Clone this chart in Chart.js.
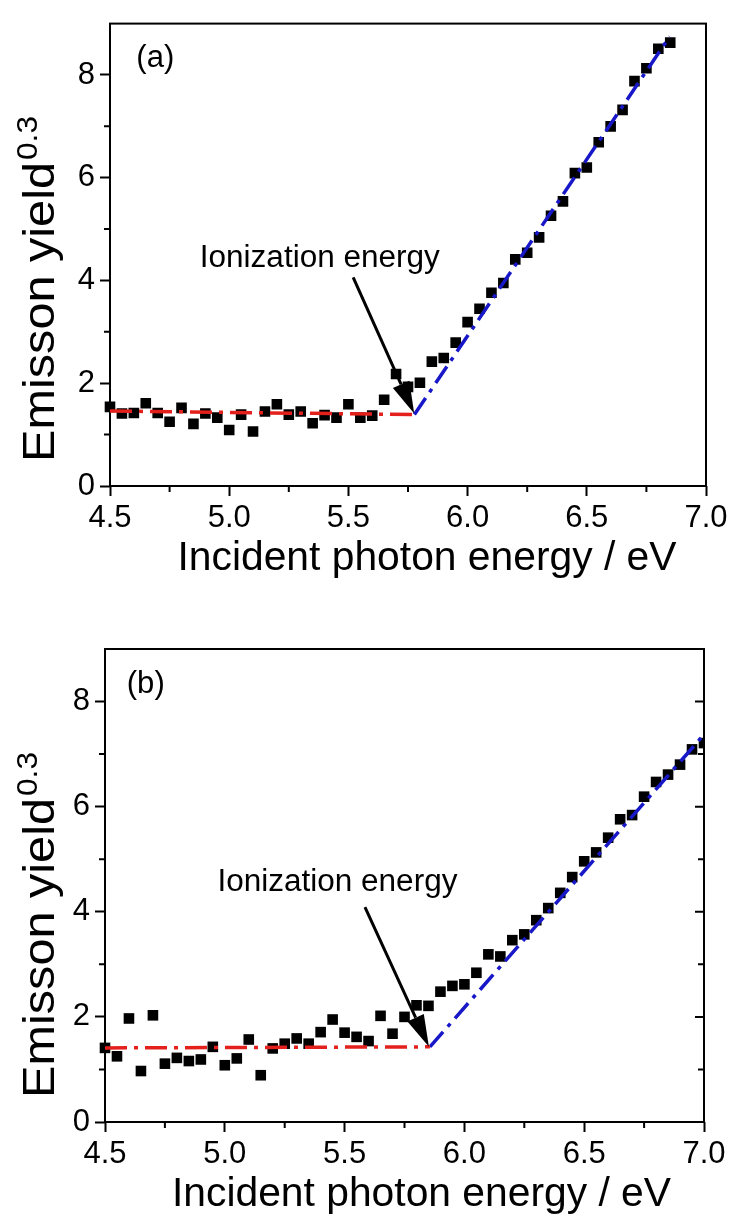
<!DOCTYPE html>
<html>
<head>
<meta charset="utf-8">
<script src="https://cdn.jsdelivr.net/npm/chart.js@4.4.1/dist/chart.umd.min.js"></script>
<style>
  html, body { margin: 0; padding: 0; background: #fff; }
  canvas { display: block; }
</style>
</head>
<body>
<canvas id="chart-a" width="733" height="609"></canvas>
<canvas id="chart-b" width="733" height="609"></canvas>
<script>
var FONT = "'Liberation Sans', Arial, sans-serif";

// axis ticks (shared by both panels)
var xTicks = [4.5, 5.0, 5.5, 6.0, 6.5, 7.0];
var xMinorTicks = [4.75, 5.25, 5.75, 6.25, 6.75];
var yTicks = [0, 2, 4, 6, 8];
var yMinorTicks = [1, 3, 5, 7];

// panel (a) measured yield
var energyA = [4.50, 4.55, 4.60, 4.65, 4.70, 4.75, 4.80, 4.85, 4.90, 4.95,
  5.00, 5.05, 5.10, 5.15, 5.20, 5.25, 5.30, 5.35, 5.40, 5.45,
  5.50, 5.55, 5.60, 5.65, 5.70, 5.75, 5.80, 5.85, 5.90, 5.95,
  6.00, 6.05, 6.10, 6.15, 6.20, 6.25, 6.30, 6.35, 6.40, 6.45,
  6.50, 6.55, 6.60, 6.65, 6.70, 6.75, 6.80, 6.85];
var yieldA = [1.54, 1.41, 1.42, 1.61, 1.42, 1.25, 1.52, 1.21, 1.41, 1.33,
  1.09, 1.39, 1.06, 1.45, 1.59, 1.39, 1.45, 1.22, 1.38, 1.33,
  1.59, 1.33, 1.37, 1.68, 2.18, 1.93, 2.01, 2.42, 2.49, 2.79,
  3.19, 3.45, 3.76, 3.95, 4.41, 4.54, 4.84, 5.26, 5.54, 6.09,
  6.20, 6.69, 7.00, 7.32, 7.88, 8.13, 8.51, 8.63];

// panel (a) fitted lines and arrow
var baseLineA_E = [4.5, 5.777];
var baseLineA_Y = [1.46, 1.39];
var riseLineA_E = [5.777, 6.848];
var riseLineA_Y = [1.39, 8.75];
var arrowA_E = [5.52, 5.776];
var arrowA_Y = [4.06, 1.41];

// panel (b) measured yield
var energyB = [4.50, 4.55, 4.60, 4.65, 4.70, 4.75, 4.80, 4.85, 4.90, 4.95,
  5.00, 5.05, 5.10, 5.15, 5.20, 5.25, 5.30, 5.35, 5.40, 5.45,
  5.50, 5.55, 5.60, 5.65, 5.70, 5.75, 5.80, 5.85, 5.90, 5.95,
  6.00, 6.05, 6.10, 6.15, 6.20, 6.25, 6.30, 6.35, 6.40, 6.45,
  6.50, 6.55, 6.60, 6.65, 6.70, 6.75, 6.80, 6.85, 6.90, 6.95, 7.00];
var yieldB = [1.41, 1.25, 1.97, 0.97, 2.03, 1.11, 1.22, 1.16, 1.19, 1.43,
  1.08, 1.21, 1.57, 0.89, 1.40, 1.49, 1.59, 1.49, 1.71, 1.95,
  1.70, 1.62, 1.54, 2.02, 1.68, 2.00, 2.22, 2.21, 2.48, 2.59,
  2.62, 2.84, 3.19, 3.15, 3.46, 3.57, 3.84, 4.07, 4.36, 4.66,
  4.96, 5.13, 5.41, 5.76, 5.84, 6.19, 6.47, 6.61, 6.80, 7.09, 7.21];

// panel (b) fitted lines and arrow
var baseLineB_E = [4.5, 5.856];
var baseLineB_Y = [1.41, 1.43];
var riseLineB_E = [5.856, 6.99];
var riseLineB_Y = [1.43, 7.32];
var arrowB_E = [5.585, 5.852];
var arrowB_Y = [4.09, 1.43];

var RED = '#e3201c';
var BLUE = '#1818c8';

function toPoints(xs, ys) {
  return xs.map(function (x, i) { return {x: x, y: ys[i]}; });
}

function stretchText(ctx, text, x, y, size, width) {
  ctx.save();
  ctx.font = size + 'px ' + FONT;
  var w = ctx.measureText(text).width;
  ctx.translate(x, y);
  ctx.scale(width / w, 1);
  ctx.textAlign = 'center';
  ctx.textBaseline = 'alphabetic';
  ctx.fillText(text, 0, 0);
  ctx.restore();
}

function drawArrow(ctx, x1, y1, x2, y2) {
  var ang = Math.atan2(y2 - y1, x2 - x1);
  var head = 32, half = 9;
  var bx = x2 - head * Math.cos(ang);
  var by = y2 - head * Math.sin(ang);
  ctx.save();
  ctx.strokeStyle = '#000';
  ctx.fillStyle = '#000';
  ctx.lineWidth = 3;
  ctx.beginPath();
  ctx.moveTo(x1, y1);
  ctx.lineTo(bx, by);
  ctx.stroke();
  ctx.beginPath();
  ctx.moveTo(x2, y2);
  ctx.lineTo(bx + half * Math.sin(ang), by - half * Math.cos(ang));
  ctx.lineTo(bx - half * Math.sin(ang), by + half * Math.cos(ang));
  ctx.closePath();
  ctx.fill();
  ctx.restore();
}

function makePanel(id, p) {
  // box frame and the unlabelled minor ticks
  var framePlugin = {
    id: 'frame',
    beforeDatasetsDraw: function (chart) {
      var ctx = chart.ctx, a = chart.chartArea;
      var xs = chart.scales.x, ys = chart.scales.y;
      ctx.save();
      ctx.strokeStyle = '#000';
      ctx.lineWidth = 2;
      ctx.strokeRect(a.left, a.top, a.right - a.left, a.bottom - a.top);
      ctx.beginPath();
      xMinorTicks.forEach(function (v) {
        var px = xs.getPixelForValue(v);
        ctx.moveTo(px, a.bottom);
        ctx.lineTo(px, a.bottom + 6);
      });
      yMinorTicks.forEach(function (v) {
        var py = ys.getPixelForValue(v);
        ctx.moveTo(a.left - 6, py);
        ctx.lineTo(a.left, py);
      });
      if (p.rightTicks) {
        yTicks.concat(yMinorTicks).forEach(function (v) {
          if (v === 0) return;
          var py = ys.getPixelForValue(v);
          var len = (v % 2 === 0) ? 9 : 6;
          ctx.moveTo(a.right - len, py);
          ctx.lineTo(a.right, py);
        });
      }
      ctx.stroke();
      ctx.restore();
    }
  };

  // panel letter, annotation, arrow and axis titles
  var notesPlugin = {
    id: 'notes',
    afterDatasetsDraw: function (chart) {
      var ctx = chart.ctx, a = chart.chartArea;
      var xs = chart.scales.x, ys = chart.scales.y;
      ctx.save();
      ctx.fillStyle = '#000';

      stretchText(ctx, p.letter, xs.getPixelForValue(p.letterAt[0]), ys.getPixelForValue(p.letterAt[1]), 31, 38);
      stretchText(ctx, 'Ionization energy', xs.getPixelForValue(p.noteAt[0]), ys.getPixelForValue(p.noteAt[1]), 31, 240);

      drawArrow(ctx,
        xs.getPixelForValue(p.arrowE[0]), ys.getPixelForValue(p.arrowY[0]),
        xs.getPixelForValue(p.arrowE[1]), ys.getPixelForValue(p.arrowY[1]));

      stretchText(ctx, 'Incident photon energy / eV', (a.left + a.right) / 2 + p.xTitleShift, a.bottom + 84, 41, 499);

      // rotated y title with superscript exponent
      ctx.save();
      ctx.translate(p.yTitleX, a.bottom - 24);
      ctx.rotate(-Math.PI / 2);
      ctx.textAlign = 'left';
      ctx.textBaseline = 'alphabetic';
      ctx.font = '44px ' + FONT;
      var w = ctx.measureText('Emisson yield').width;
      ctx.save();
      ctx.scale(300 / w, 1);
      ctx.fillText('Emisson yield', 0, 0);
      ctx.restore();
      ctx.font = '30px ' + FONT;
      var w2 = ctx.measureText('0.3').width;
      ctx.translate(302, -17);
      ctx.scale(44 / w2, 1);
      ctx.fillText('0.3', 0, 0);
      ctx.restore();

      ctx.restore();
    }
  };

  var lineStyle = {
    showLine: true,
    pointRadius: 0,
    borderWidth: 3.5,
    fill: false,
    clip: 0
  };

  return new Chart(document.getElementById(id), {
    type: 'scatter',
    data: {
      datasets: [
        Object.assign({data: toPoints(p.baseE, p.baseY), borderColor: RED, borderDash: [22, 7, 4, 7]}, lineStyle),
        Object.assign({data: toPoints(p.riseE, p.riseY), borderColor: BLUE, borderDash: [20, 7, 4, 7]}, lineStyle),
        {
          data: toPoints(p.energy, p.yields),
          pointStyle: 'rect',
          pointRadius: 7.5,
          pointBackgroundColor: '#000',
          pointBorderWidth: 0,
          showLine: false,
          clip: {left: 8, top: 0, right: 0, bottom: 0}
        }
      ]
    },
    options: {
      responsive: false,
      animation: false,
      events: [],
      layout: {
        autoPadding: false,
        padding: {top: p.top, right: p.right, left: 0, bottom: 0}
      },
      plugins: {legend: {display: false}, tooltip: {enabled: false}},
      scales: {
        x: {
          type: 'linear',
          min: 4.5,
          max: 7.0,
          afterBuildTicks: function (scale) {
            scale.ticks = xTicks.map(function (v) { return {value: v}; });
          },
          afterFit: function (scale) { scale.height = p.xAxisHeight; },
          border: {display: false},
          grid: {drawOnChartArea: false, drawTicks: true, tickLength: 10, tickWidth: 2, tickColor: '#000'},
          ticks: {
            color: '#000',
            padding: p.xPad,
            maxRotation: 0,
            font: {family: FONT, size: 31},
            callback: function (v) { return v.toFixed(1); }
          }
        },
        y: {
          type: 'linear',
          min: 0,
          max: 9,
          afterBuildTicks: function (scale) {
            scale.ticks = yTicks.map(function (v) { return {value: v}; });
          },
          afterFit: function (scale) { scale.width = p.left; },
          border: {display: false},
          grid: {drawOnChartArea: false, drawTicks: true, tickLength: 10, tickWidth: 2, tickColor: '#000'},
          ticks: {
            color: '#000',
            padding: 5,
            font: {family: FONT, size: 31},
            callback: function (v) { return String(v); }
          }
        }
      }
    },
    plugins: [framePlugin, notesPlugin]
  });
}

makePanel('chart-a', {
  energy: energyA, yields: yieldA,
  baseE: baseLineA_E, baseY: baseLineA_Y,
  riseE: riseLineA_E, riseY: riseLineA_Y,
  arrowE: arrowA_E, arrowY: arrowA_Y,
  letter: '(a)', letterAt: [4.69, 8.15],
  noteAt: [5.38, 4.26],
  top: 13, right: 27, left: 110, xAxisHeight: 123, xPad: 4,
  xTitleShift: 19, yTitleX: 54,
  rightTicks: false
});

makePanel('chart-b', {
  energy: energyB, yields: yieldB,
  baseE: baseLineB_E, baseY: baseLineB_Y,
  riseE: riseLineB_E, riseY: riseLineB_Y,
  arrowE: arrowB_E, arrowY: arrowB_Y,
  letter: '(b)', letterAt: [4.67, 8.17],
  noteAt: [5.47, 4.40],
  top: 40, right: 29, left: 105, xAxisHeight: 96, xPad: 4,
  xTitleShift: 17, yTitleX: 54,
  rightTicks: true
});
</script>
</body>
</html>
